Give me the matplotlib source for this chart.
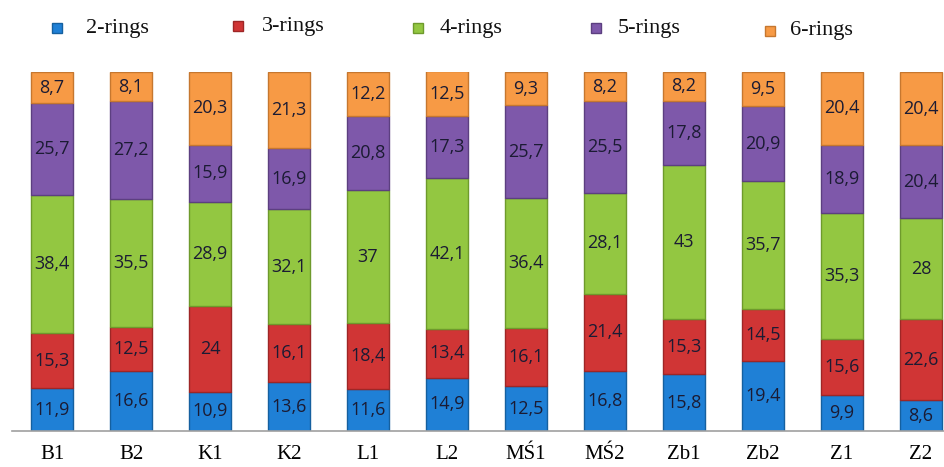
import matplotlib
matplotlib.use("Agg")
import matplotlib.pyplot as plt
import numpy as np
from matplotlib.lines import Line2D

categories = ["B1", "B2", "K1", "K2", "L1", "L2", "MŚ1", "MŚ2", "Zb1", "Zb2", "Z1", "Z2"]
series_names = ["2-rings", "3-rings", "4-rings", "5-rings", "6-rings"]
rings2 = [11.9, 16.6, 10.9, 13.6, 11.6, 14.9, 12.5, 16.8, 15.8, 19.4, 9.9, 8.6]
rings3 = [15.3, 12.5, 24, 16.1, 18.4, 13.4, 16.1, 21.4, 15.3, 14.5, 15.6, 22.6]
rings4 = [38.4, 35.5, 28.9, 32.1, 37, 42.1, 36.4, 28.1, 43, 35.7, 35.3, 28]
rings5 = [25.7, 27.2, 15.9, 16.9, 20.8, 17.3, 25.7, 25.5, 17.8, 20.9, 18.9, 20.4]
rings6 = [8.7, 8.1, 20.3, 21.3, 12.2, 12.5, 9.3, 8.2, 8.2, 9.5, 20.4, 20.4]

colors = ["#1F80D6", "#D03535", "#93C741", "#7E58AA", "#F79A45"]
edges = ["#15609F", "#9E2626", "#6E9A2C", "#5C3F80", "#C6772F"]

fig = plt.figure(figsize=(9.44, 4.67), dpi=100)
ax = fig.add_axes([12/944, 1-431/467, 932/944, (431-72)/467])

x = np.arange(len(categories))
bottom = np.zeros(len(categories))
for vals, c, ec in zip([rings2, rings3, rings4, rings5, rings6], colors, edges):
    vals = np.array(vals, dtype=float)
    ax.bar(x, vals, bottom=bottom, width=0.53, color=c, edgecolor=ec, linewidth=1.0)
    for xi, b, v in zip(x, bottom, vals):
        s = (f"{v:g}").replace(".", ",")
        ax.text(xi, b + v/2, s, ha="center", va="center", fontsize=13,
                family="Open Sans", color="#1B1B33")
    bottom += vals

ax.set_xlim((12-52)/79, (944-52)/79)
ax.set_ylim(0, 100)
for s in ["top", "right", "left"]:
    ax.spines[s].set_visible(False)
ax.spines["bottom"].set_color("#A0A0A0")
ax.spines["bottom"].set_linewidth(1.2)
ax.set_yticks([])
ax.set_xticks(x)
ax.set_xticklabels(categories, family="Liberation Serif", fontsize=15)
ax.tick_params(axis="x", length=0, pad=10)

# legend placed manually
leg_marker_x = [57, 238, 418, 596, 770]
leg_text_x = [86, 262, 440, 618, 790]
leg_y = [28, 26, 28, 28, 31]
for name, c, ec, mx, tx, ly in zip(series_names, colors, edges, leg_marker_x, leg_text_x, leg_y):
    fig.add_artist(Line2D([mx/944], [1-ly/467], marker="s", markersize=7,
                          markerfacecolor=c, markeredgecolor=ec, linestyle="none",
                          transform=fig.transFigure))
    fig.text(tx/944, 1-ly/467, name, ha="left", va="center",
             family="Liberation Serif", fontsize=16, color="#111111")

fig.savefig("out.png", dpi=100)
